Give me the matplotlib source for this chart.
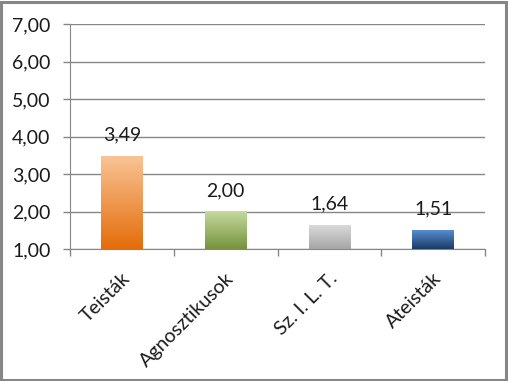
import matplotlib.pyplot as plt
import numpy as np
from matplotlib.colors import LinearSegmentedColormap
from matplotlib.patches import Rectangle

plt.rcParams['font.family'] = ['Lato', 'DejaVu Sans']

kategoriak = ["Teisták", "Agnosztikusok", "Sz. I. L. T.", "Ateisták"]
ertekek = [3.49, 2.00, 1.64, 1.51]
cimkek = ["3,49", "2,00", "1,64", "1,51"]
y_ticks = [1, 2, 3, 4, 5, 6, 7]
y_labels = ["1,00", "2,00", "3,00", "4,00", "5,00", "6,00", "7,00"]
# (top, bottom) colours of the gradients
szinek = [("#F9C496", "#E46C0A"), ("#C5DA9E", "#76923C"),
          ("#DADADA", "#A5A5A5"), ("#5A92D8", "#1B3A64")]
fs = 14

fig = plt.figure(figsize=(5.08, 3.81), dpi=100)
ax = fig.add_axes([70/508, 1 - 249/381, 415/508, 225/381])

x = np.arange(len(kategoriak))
w = 0.4
bars = ax.bar(x, [v - 1 for v in ertekek], width=w, bottom=1,
              color="none", edgecolor="none", zorder=3)

grad = np.linspace(0, 1, 256).reshape(-1, 1)
for b, (top, bot), v in zip(bars, szinek, ertekek):
    cmap = LinearSegmentedColormap.from_list("g", [bot, top])
    im = ax.imshow(grad, cmap=cmap, origin="lower", aspect="auto",
                   extent=(b.get_x(), b.get_x() + w, 1, v), zorder=3)
    im.set_clip_path(b)

for xi, v, c in zip(x, ertekek, cimkek):
    ax.annotate(c, (xi, v), xytext=(0, 11), textcoords="offset points",
                ha="center", va="baseline", fontsize=fs, color="#1a1a1a")

ax.set_xlim(-0.5, len(kategoriak) - 0.5)
ax.set_ylim(1, 7)
ax.set_yticks(y_ticks)
ax.set_yticklabels(y_labels, fontsize=fs, color="#1a1a1a")
ax.yaxis.grid(True, color="#868686", linewidth=1)
ax.set_axisbelow(True)

ax.set_xticks(np.arange(len(kategoriak) + 1) - 0.5)
ax.set_xticklabels([])
for xi, k in zip(x, kategoriak):
    ax.annotate(k, (xi, 1), xytext=(4, -19), textcoords="offset points",
                ha="right", va="center", rotation=45, rotation_mode="anchor",
                fontsize=fs, color="#1a1a1a")

ax.tick_params(axis="both", length=5, width=1, color="#868686", pad=9)
for s in ["top", "right"]:
    ax.spines[s].set_visible(False)
for s in ["left", "bottom"]:
    ax.spines[s].set_color("#868686")

fig.patches.append(Rectangle((0.002, 0.003), 0.994, 0.993, transform=fig.transFigure,
                             fill=False, edgecolor="#868686", linewidth=2.2))

fig.savefig("out.png", dpi=100)
